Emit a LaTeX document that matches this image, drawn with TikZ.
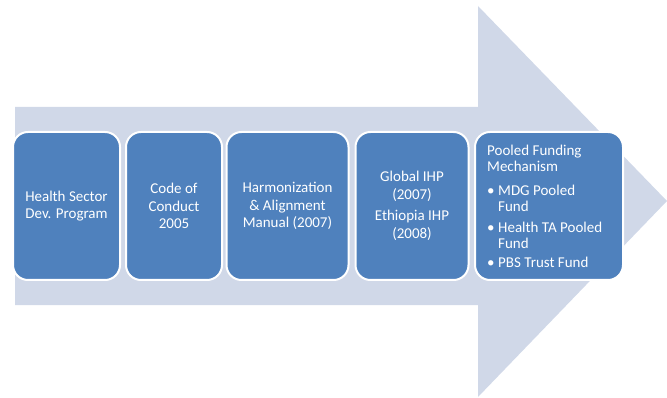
\documentclass[tikz,border=0pt]{standalone}
\usepackage{fontspec}
\setmainfont{Carlito}
\definecolor{arrowbg}{HTML}{D0D8E8}
\definecolor{boxfill}{HTML}{4F81BD}
\begin{document}
\begin{tikzpicture}[x=1pt,y=-1pt,
  stepbox/.style={draw=white, line width=2pt, fill=boxfill, rounded corners=15pt,
    text=white, align=center, inner sep=0pt,
    font=\fontsize{15}{17.5}\selectfont},
]
\useasboundingbox (0,0) rectangle (667,398);
\fill[arrowbg] (15,107) -- (478,107) -- (478,6) -- (667,201) -- (478,397) -- (478,305) -- (15,305) -- cycle;
\node[stepbox, minimum width=107pt, minimum height=148pt] (b1) at (66.5,206) {Health Sector\\Dev. Program};
\node[stepbox, minimum width=96pt, minimum height=148pt] (b2) at (174,206) {Code of\\Conduct\\2005};
\node[stepbox, minimum width=122pt, minimum height=148pt] (b3) at (287.5,206) {Harmonization\\\&\ Alignment\\Manual (2007)};
\node[stepbox, minimum width=113pt, minimum height=148pt] (b4) at (412,206) {Global IHP\\(2007)\\[4pt]Ethiopia IHP\\(2008)};
\node[stepbox, minimum width=148pt, minimum height=148pt] (b5) at (549,206) {};
\node[text=white, align=left, inner sep=0pt, anchor=west, font=\fontsize{15}{16}\selectfont] (t5) at (487,206)
 {Pooled Funding\\Mechanism\\[8pt]
  \makebox[11pt][l]{\textbullet}MDG Pooled\\\hspace*{11pt}Fund\\[5pt]
  \makebox[11pt][l]{\textbullet}Health TA Pooled\\\hspace*{11pt}Fund\\[3pt]
  \makebox[11pt][l]{\textbullet}PBS Trust Fund};
\end{tikzpicture}
\end{document}
